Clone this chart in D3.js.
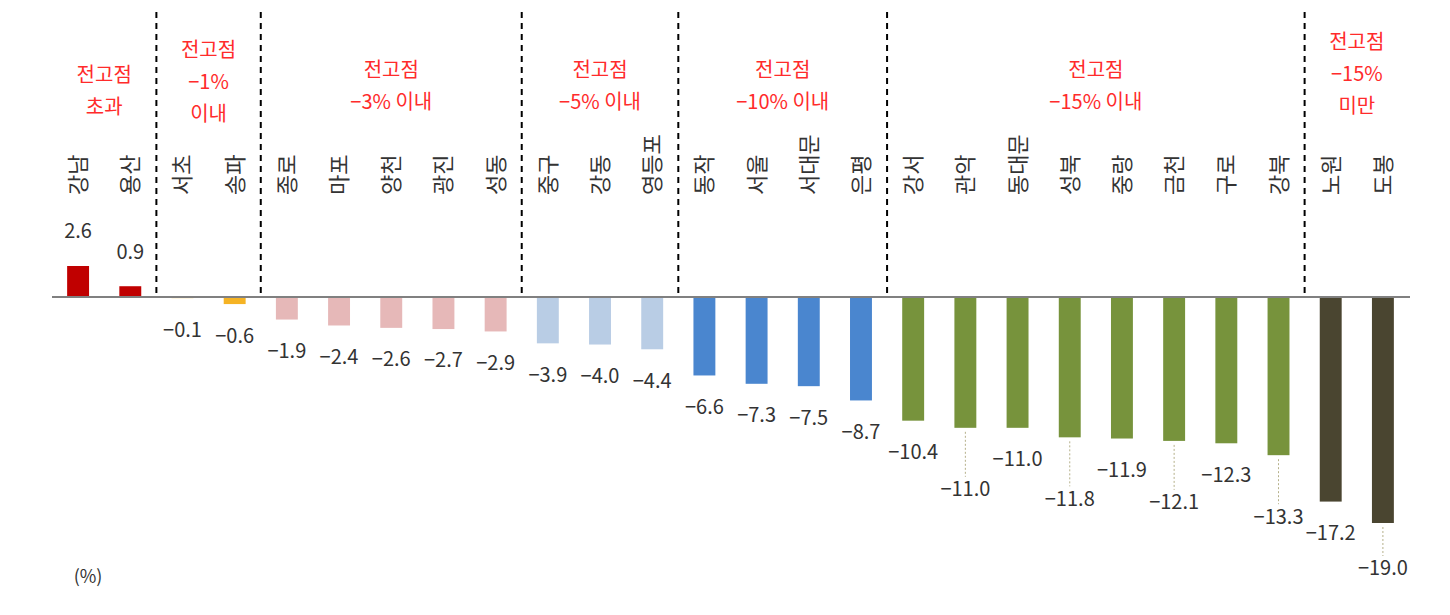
<!DOCTYPE html>
<html><head><meta charset="utf-8">
<script src="https://cdn.jsdelivr.net/npm/d3@7"></script>
<style>body{margin:0;background:#fff}svg{display:block}text{font-family:"Noto Sans CJK KR","Noto Sans",sans-serif}</style>
</head><body><svg id="c" width="1450" height="615"></svg>
<script>
const categories=["강남","용산","서초","송파","종로","마포","양천","광진","성동","중구","강동","영등포","동작","서울","서대문","은평","강서","관악","동대문","성북","중랑","금천","구로","강북","노원","도봉"];
const values=[2.6,0.9,-0.1,-0.6,-1.9,-2.4,-2.6,-2.7,-2.9,-3.9,-4.0,-4.4,-6.6,-7.3,-7.5,-8.7,-10.4,-11.0,-11.0,-11.8,-11.9,-12.1,-12.3,-13.3,-17.2,-19.0];
const groupOf=[0,0,1,1,2,2,2,2,2,3,3,3,4,4,4,4,5,5,5,5,5,5,5,5,6,6];
const groupTitles=[["전고점","초과"],["전고점","−1%","이내"],["전고점","−3% 이내"],["전고점","−5% 이내"],["전고점","−10% 이내"],["전고점","−15% 이내"],["전고점","−15%","미만"]];
const groupColors=["#c00000","#f5b324","#e6b8b8","#b9cde5","#4a86cf","#77933c","#4a4530"];
const lowered=["관악","성북","금천","강북","도봉"];

const svg=d3.select("#c");
const x=d3.scaleBand().domain(categories).range([52,1409]).paddingInner(0.58).paddingOuter(0.29);
const y=d3.scaleLinear().domain([-19,2.6]).range([523,266]);
const bw=x.bandwidth();
const cx=c=>x(c)+bw/2;

svg.selectAll("rect.bar").data(categories).join("rect")
 .attr("x",c=>x(c)).attr("width",bw)
 .attr("y",(c,i)=>y(Math.max(0,values[i])))
 .attr("height",(c,i)=>Math.abs(y(values[i])-y(0)))
 .attr("fill",(c,i)=>groupColors[groupOf[i]]);

svg.append("line").attr("x1",52).attr("x2",1410).attr("y1",y(0)).attr("y2",y(0)).attr("stroke","#808080").attr("stroke-width",2);

// separators
const seps=[];
for(let i=1;i<categories.length;i++) if(groupOf[i]!==groupOf[i-1]) seps.push((cx(categories[i-1])+cx(categories[i]))/2);
svg.selectAll("line.sep").data(seps).join("line").attr("x1",d=>d).attr("x2",d=>d).attr("y1",12).attr("y2",y(0))
 .attr("stroke","#000").attr("stroke-width",2).attr("stroke-dasharray","6,5");

// group titles
const gIdx=d3.range(groupTitles.length);
gIdx.forEach(g=>{
  const members=categories.filter((c,i)=>groupOf[i]===g);
  const mx=(cx(members[0])+cx(members[members.length-1]))/2;
  const lines=groupTitles[g];
  const top= lines.length===3? (g===1?52:44) : (g===0?77:72);
  lines.forEach((t,k)=>svg.append("text").attr("x",mx).attr("y",top+k*32).attr("text-anchor","middle")
   .attr("dominant-baseline","middle").attr("fill","#ff2b2b").attr("font-size",20).text(t));
});

// category labels
svg.selectAll("text.cat").data(categories).join("text")
 .attr("transform",c=>`translate(${cx(c)+8},195) rotate(-90)`)
 .attr("font-size",22).attr("fill","#333").text(c=>c);

// value labels
categories.forEach((c,i)=>{
  const v=values[i];
  const low=lowered.includes(c);
  let ly;
  if(v>=0) ly=y(v)-33;
  else ly=y(v)+33+(low?(c==="도봉"?14:30):0);
  if(low){
    svg.append("line").attr("x1",cx(c)).attr("x2",cx(c)).attr("y1",y(v)+4).attr("y2",ly-14)
     .attr("stroke","#b5b08a").attr("stroke-width",1).attr("stroke-dasharray","2,2");
  }
  svg.append("text").attr("x",cx(c)).attr("y",ly).attr("text-anchor","middle").attr("dominant-baseline","middle")
   .attr("font-size",20).attr("fill","#333").text(d3.format(".1f")(v).replace("-","−"));
});

svg.append("text").attr("x",88).attr("y",578).attr("text-anchor","middle").attr("dominant-baseline","middle")
 .attr("font-size",18).attr("fill","#333").text("(%)");
</script></body></html>
